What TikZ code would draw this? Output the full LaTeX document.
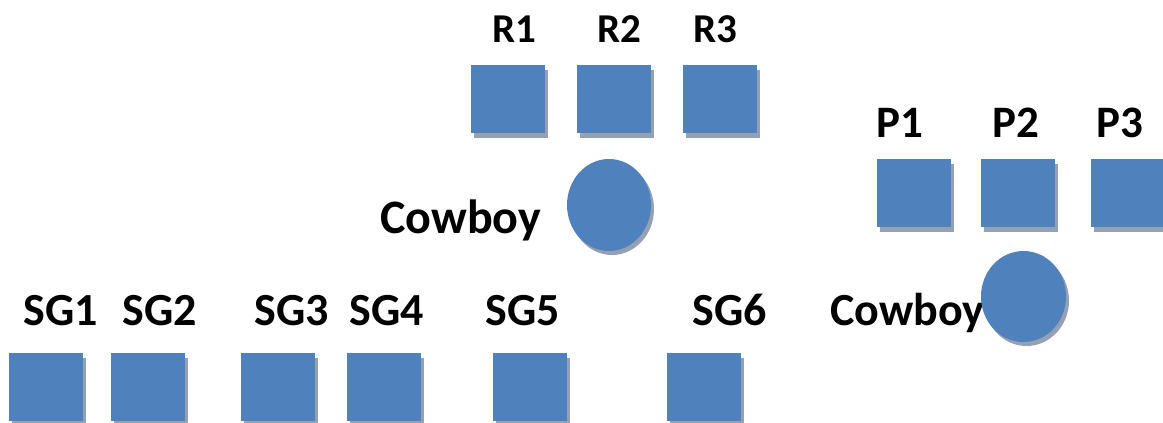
\documentclass[tikz,border=0pt]{standalone}
\usepackage{fontspec}
\setmainfont{Carlito}
\usetikzlibrary{shapes.geometric,shadows}
\definecolor{boxblue}{HTML}{4F81BD}
\definecolor{shadowgray}{HTML}{95A1B1}
\tikzset{
  sq/.style={rectangle, fill=boxblue, minimum width=74pt, minimum height=68pt, inner sep=0pt,
    drop shadow={shadow xshift=3pt, shadow yshift=-5pt, fill=shadowgray, opacity=1}},
  circ/.style={ellipse, fill=boxblue, inner sep=0pt,
    drop shadow={shadow xshift=3pt, shadow yshift=-4pt, fill=shadowgray, opacity=1}},
  lbl/.style={font=\bfseries\fontsize{46}{54}\selectfont, anchor=base, inner sep=0pt},
  lblR/.style={lbl, font=\bfseries\fontsize{41}{49}\selectfont},
  lblP/.style={lbl, font=\bfseries\fontsize{45}{53}\selectfont},
}
\begin{document}
\begin{tikzpicture}[x=1pt,y=-1pt]
\useasboundingbox (0,0) rectangle (1163,423);
\begin{scope}
\clip (0,0) rectangle (1163,423);
% R row
\node[sq] (R1) at (508,99) {};
\node[sq] (R2) at (614,99) {};
\node[sq] (R3) at (720,99) {};
\node[lblR] (lR1) at (514,42) {R1};
\node[lblR] (lR2) at (619,42) {R2};
\node[lblR] (lR3) at (715,42) {R3};
% P row
\node[sq] (P1) at (914,193) {};
\node[sq] (P2) at (1018,193) {};
\node[sq] (P3) at (1128,193) {};
\node[lblP] (lP1) at (900,137) {P1};
\node[lblP] (lP2) at (1016,137) {P2};
\node[lblP] (lP3) at (1120,137) {P3};
% SG row
\node[sq] (SG1) at (46,387) {};
\node[sq] (SG2) at (148,387) {};
\node[sq] (SG3) at (278,387) {};
\node[sq] (SG4) at (384,387) {};
\node[sq] (SG5) at (530,387) {};
\node[sq] (SG6) at (704,387) {};
\node[lbl] (lSG1) at (61,325) {SG1};
\node[lbl] (lSG2) at (160,325) {SG2};
\node[lbl] (lSG3) at (292,325) {SG3};
\node[lbl] (lSG4) at (387,325) {SG4};
\node[lbl] (lSG5) at (523,325) {SG5};
\node[lbl] (lSG6) at (730,325) {SG6};
% Cowboys
\node[lbl, anchor=base west, font=\bfseries\fontsize{48}{56}\selectfont] (lC1) at (380,233) {Cowboy};
\node[circ, minimum width=84pt, minimum height=92pt] (C1) at (609,205) {};
\node[lbl, anchor=base west, font=\bfseries\fontsize{46}{54}\selectfont] (lC2) at (830,325) {Cowboy};
\node[circ, minimum width=85pt, minimum height=91pt] (C2) at (1023.5,296.5) {};
\end{scope}
\end{tikzpicture}
\end{document}
